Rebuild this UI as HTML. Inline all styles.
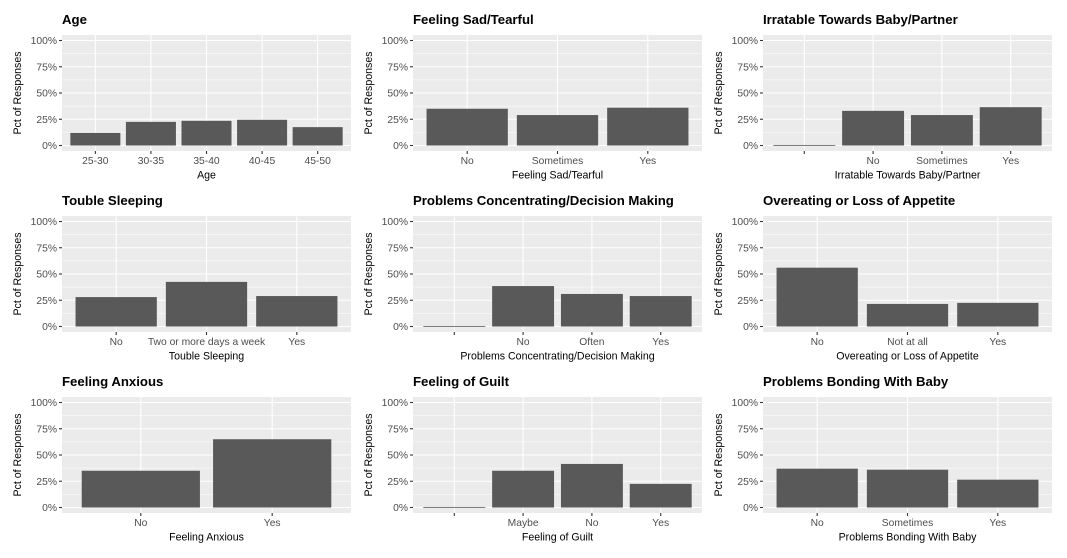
<!DOCTYPE html>
<html><head><meta charset="utf-8">
<style>
html,body{margin:0;padding:0;background:#fff;}
svg{display:block;font-family:"Liberation Sans",Arial,sans-serif;}
</style></head>
<body>
<svg id="chart" width="1067" height="558" viewBox="0 0 1067 558" xmlns="http://www.w3.org/2000/svg"></svg>
<script>
const titles = ["Age","Feeling Sad/Tearful","Irratable Towards Baby/Partner","Touble Sleeping","Problems Concentrating/Decision Making","Overeating or Loss of Appetite","Feeling Anxious","Feeling of Guilt","Problems Bonding With Baby"];
const catsAge = ["25-30","30-35","35-40","40-45","45-50"];
const valsAge = [12,22.5,23.5,24.5,17.5];
const catsSad = ["No","Sometimes","Yes"];
const valsSad = [35,29,36];
const catsIrr = ["","No","Sometimes","Yes"];
const valsIrr = [0.5,33,29,36.5];
const catsSleep = ["No","Two or more days a week","Yes"];
const valsSleep = [28,42.5,29];
const catsConc = ["","No","Often","Yes"];
const valsConc = [0.5,38.5,31,29];
const catsEat = ["No","Not at all","Yes"];
const valsEat = [56,21.5,22.5];
const catsAnx = ["No","Yes"];
const valsAnx = [35,65];
const catsGuilt = ["","Maybe","No","Yes"];
const valsGuilt = [0.5,35,41.5,22.5];
const catsBond = ["No","Sometimes","Yes"];
const valsBond = [37,36,26.5];
const yTicks = [0,25,50,75,100];
const yTickLabels = ["0%","25%","50%","75%","100%"];

const allCats = [catsAge,catsSad,catsIrr,catsSleep,catsConc,catsEat,catsAnx,catsGuilt,catsBond];
const allVals = [valsAge,valsSad,valsIrr,valsSleep,valsConc,valsEat,valsAnx,valsGuilt,valsBond];

const svg = document.getElementById('chart');
const NS = "http://www.w3.org/2000/svg";
function mk(tag, attrs, parent){const e=document.createElementNS(NS,tag);for(const k in attrs)e.setAttribute(k,attrs[k]);(parent||svg).appendChild(e);return e;}

const colLeft=[62,413,763], PW=289, rowTop=[35,216,397], PH=116;

for(let p=0;p<9;p++){
  const col=p%3,row=Math.floor(p/3);
  const L=colLeft[col],T=rowTop[row];
  const cats=allCats[p],vals=allVals[p],n=cats.length;
  const g=mk('g',{});
  
  
  const y=v=>T+110.5-v*(105/100);
  const step=PW/(n+0.2);
  const x=i=>L+step*(0.6+i);
  const bg=mk('rect',{x:L,y:T,width:PW,height:PH,fill:'#ebebeb'},g);
  
  
  for(let i=0;i<4;i++){const v=12.5+25*i;mk('line',{x1:L,x2:L+PW,y1:y(v),y2:y(v),stroke:'#fff','stroke-width':0.5},g);}
  yTicks.forEach((v,i)=>{
    mk('line',{x1:L,x2:L+PW,y1:y(v),y2:y(v),stroke:'#fff','stroke-width':1.1},g);
    mk('line',{x1:L-3,x2:L,y1:y(v),y2:y(v),stroke:'#333','stroke-width':1.1},g);
    const t=mk('text',{x:L-5,y:y(v)+3.6,'text-anchor':'end','font-size':'10.3','fill':'#4d4d4d'},g);
    t.textContent=yTickLabels[i];
    
    
  });
  cats.forEach((c,i)=>{
    mk('line',{x1:x(i),x2:x(i),y1:T,y2:T+PH,stroke:'#fff','stroke-width':1.1},g);
    mk('line',{x1:x(i),x2:x(i),y1:T+PH,y2:T+PH+3,stroke:'#333','stroke-width':1.1},g);
    const t=mk('text',{x:x(i),y:T+PH+13,'text-anchor':'middle','font-size':'10.3','fill':'#4d4d4d'},g);
    t.textContent=c;
    
    
  });
  vals.forEach((v,i)=>{
    const bw=step*0.9;
    const b=mk('rect',{x:x(i)-bw/2,y:y(v),width:bw,height:Math.max(0.8,y(0)-y(v)),fill:'#595959'},g);
    
    
  });
  const ti=mk('text',{x:L,y:T-11,'font-size':'13.2','font-weight':'bold',fill:'#000'},g);
  ti.textContent=titles[p];
  
  
  const xt=mk('text',{x:L+PW/2,y:T+PH+27.5,'text-anchor':'middle','font-size':'10.6',fill:'#000'},g);
  xt.textContent=titles[p];
  
  
  const yt=mk('text',{x:0,y:0,'text-anchor':'middle','font-size':'10.6',fill:'#000',transform:`translate(${L-41},${T+PH/2}) rotate(-90)`},g);
  yt.textContent='Pct of Responses';
  
  
}
</script>
</body></html>
